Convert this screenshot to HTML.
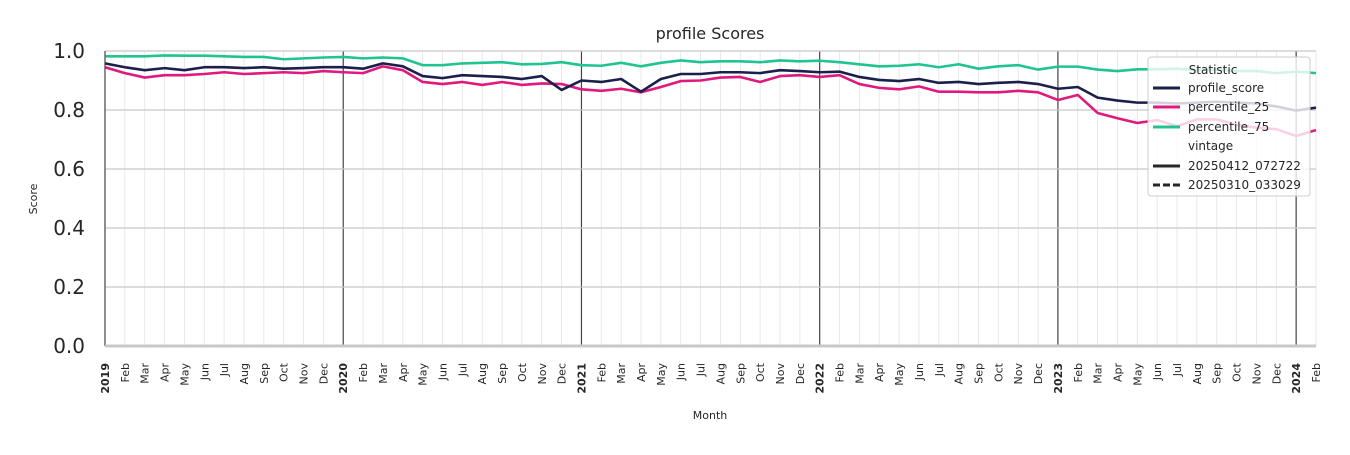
<!DOCTYPE html>
<html><head><meta charset="utf-8"><style>
body{margin:0;background:#fff;font-family:"Liberation Sans","DejaVu Sans",sans-serif;}
</style></head><body>
<svg id="chart" width="1350" height="450" xmlns="http://www.w3.org/2000/svg" font-family="DejaVu Sans, Liberation Sans, sans-serif">
<rect width="1350" height="450" fill="#fff"/>
<g id="grid"></g><g id="series"></g><g id="axes"></g>
<text x="710" y="39" text-anchor="middle" font-size="16" fill="#262626">profile Scores</text>
<text x="37" y="199" text-anchor="middle" font-size="11" fill="#262626" transform="rotate(-90 37 199)">Score</text>
<text x="710" y="419" text-anchor="middle" font-size="11" fill="#262626">Month</text>
<g>
<rect x="1148" y="57" width="162" height="139" rx="3" fill="#fff" fill-opacity="0.8" stroke="#ccc"/>
<text x="1213" y="74" text-anchor="middle" font-size="12" fill="#262626">Statistic</text>
<line x1="1153" y1="88" x2="1180" y2="88" stroke="#1b1f4b" stroke-width="3"/>
<text x="1188" y="92" font-size="12" fill="#262626">profile_score</text>
<line x1="1153" y1="107" x2="1180" y2="107" stroke="#e0197d" stroke-width="3"/>
<text x="1188" y="111" font-size="12" fill="#262626">percentile_25</text>
<line x1="1153" y1="127" x2="1180" y2="127" stroke="#20c491" stroke-width="3"/>
<text x="1188" y="131" font-size="12" fill="#262626">percentile_75</text>
<text x="1188" y="150" font-size="12" fill="#262626">vintage</text>
<line x1="1153" y1="166" x2="1180" y2="166" stroke="#262626" stroke-width="3"/>
<text x="1188" y="170" font-size="12" fill="#262626">20250412_072722</text>
<line x1="1153" y1="185" x2="1180" y2="185" stroke="#262626" stroke-width="3" stroke-dasharray="7,3"/>
<text x="1188" y="189" font-size="12" fill="#262626">20250310_033029</text>
</g>
</svg>
<script>
const monthNames=["Jan","Feb","Mar","Apr","May","Jun","Jul","Aug","Sep","Oct","Nov","Dec"];
const yTicks=[0.0,0.2,0.4,0.6,0.8,1.0];
const profileScore=[.958,.945,.935,.942,.935,.945,.945,.942,.945,.940,.942,.945,
.945,.940,.958,.948,.915,.908,.918,.915,.912,.905,.915,.868,
.900,.895,.905,.862,.905,.922,.922,.928,.928,.925,.935,.932,
.928,.930,.912,.902,.898,.905,.892,.895,.888,.892,.895,.888,
.872,.878,.842,.832,.825,.825,.822,.825,.828,.825,.822,.812,
.798,.808];
const percentile25=[.945,.925,.910,.918,.918,.922,.928,.922,.925,.928,.925,.932,
.928,.925,.948,.935,.895,.888,.895,.885,.895,.885,.890,.888,
.870,.865,.872,.860,.878,.898,.900,.910,.912,.895,.915,.918,
.912,.918,.888,.875,.870,.880,.862,.862,.860,.860,.865,.860,
.834,.851,.790,.772,.756,.766,.745,.768,.768,.750,.740,.735,
.712,.732];
const percentile75=[.982,.982,.982,.985,.984,.984,.982,.980,.980,.972,.975,.978,
.980,.975,.978,.975,.952,.952,.958,.960,.962,.955,.956,.962,
.952,.950,.960,.948,.960,.968,.962,.965,.965,.962,.968,.965,
.967,.962,.955,.948,.950,.955,.945,.955,.940,.948,.952,.937,
.947,.947,.937,.932,.938,.938,.940,.935,.938,.932,.932,.925,
.930,.925];
const startYear=2019;
const NS="http://www.w3.org/2000/svg";
const X0=105,X1=1316,Y0=346,Y1=51;
const n=profileScore.length;
const xs=i=>X0+(X1-X0)*i/(n-1);
const ys=v=>Y0-(Y0-Y1)*v;
function mk(tag,attrs,parent){const e=document.createElementNS(NS,tag);for(const k in attrs)e.setAttribute(k,attrs[k]);parent.appendChild(e);return e;}
const grid=document.getElementById('grid'),series=document.getElementById('series'),axes=document.getElementById('axes');
for(let i=0;i<n;i++){
  const x=xs(i),isYear=i%12===0;
  const l=mk('line',{x1:x,x2:x,y1:Y1,y2:Y0,stroke:isYear?'#444':'#e3e3e3','stroke-width':isYear?1.2:0.8},grid);
  
  
  const label=isYear?String(startYear+i/12):monthNames[i%12];
  const t=mk('text',{x:0,y:0,'font-size':11,fill:'#262626','text-anchor':'end','font-weight':isYear?'bold':'normal',transform:`translate(${x+4},${Y0+17}) rotate(-90)`},axes);
  t.textContent=label;
  
  
}
yTicks.forEach(v=>{
  const y=ys(v);
  if(v>0){const l=mk('line',{x1:X0,x2:X1,y1:y,y2:y,stroke:'#c8c8c8','stroke-width':1.2},grid);
  
  }
  const t=mk('text',{x:X0-20,y:y+7,'font-size':20,fill:'#262626','text-anchor':'end'},axes);
  t.textContent=v.toFixed(1);
  
  
});
const ax=mk('line',{x1:X0,x2:X0,y1:Y1,y2:Y0,stroke:'#444','stroke-width':1},axes);


const bx=mk('line',{x1:X0,x2:X1,y1:Y0,y2:Y0,stroke:'#c8c8c8','stroke-width':3},axes);


function drawLine(arr,color,name){
  const p=mk('polyline',{points:arr.map((v,i)=>xs(i)+','+ys(v)).join(' '),fill:'none',stroke:color,'stroke-width':2.6,'stroke-linejoin':'round'},series);
  
  
}
drawLine(percentile75,'#20c491','line-percentile-75');
drawLine(percentile25,'#e0197d','line-percentile-25');
drawLine(profileScore,'#1b1f4b','line-profile-score');
</script>
</body></html>
